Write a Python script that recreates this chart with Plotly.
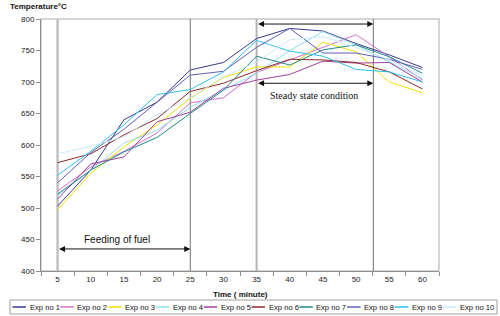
import plotly.graph_objects as go

time = [5, 10, 15, 20, 25, 30, 35, 40, 45, 50, 55, 60]
series_names = ["Exp no 1", "Exp no 2", "Exp no 3", "Exp no 4", "Exp no 5",
                "Exp no 6", "Exp no 7", "Exp no 8", "Exp no 9", "Exp no 10"]
exp1 = [503, 560, 640, 668, 719, 731, 769, 785, 781, 761, 743, 723]
exp2 = [527, 565, 590, 619, 667, 675, 715, 735, 756, 775, 740, 703]
exp3 = [497, 555, 597, 632, 674, 707, 724, 724, 763, 748, 700, 683]
exp4 = [520, 560, 603, 623, 660, 687, 714, 750, 780, 759, 732, 705]
exp5 = [514, 570, 581, 637, 652, 690, 703, 712, 733, 730, 731, 700]
exp6 = [572, 586, 616, 642, 685, 698, 718, 736, 735, 731, 716, 689]
exp7 = [522, 560, 589, 612, 650, 687, 741, 727, 751, 759, 740, 714]
exp8 = [540, 588, 625, 668, 711, 717, 755, 785, 746, 746, 736, 720]
exp9 = [552, 590, 632, 680, 688, 716, 766, 749, 741, 720, 716, 700]
exp10 = [586, 598, 613, 648, 675, 708, 732, 767, 772, 755, 735, 710]
all_series = [exp1, exp2, exp3, exp4, exp5, exp6, exp7, exp8, exp9, exp10]
colors = ["#3a3a8c", "#d070d0", "#f2e000", "#8fe0f2", "#a040a0",
          "#902828", "#208a8a", "#6060b8", "#30c0f0", "#c8ecf8"]

y_ticks = [400, 450, 500, 550, 600, 650, 700, 750, 800]
phase_lines = [5, 25, 35, 52.6]

# plot area in pixels (for converting overlay positions to paper coords)
L, R, T, B = 41, 439, 19, 271
W, H = 500, 316
def px(xp):
    return (xp - L) / (R - L)
def py(yp):
    return (B - yp) / (B - T)

fig = go.Figure()
for name, vals, c in zip(series_names, all_series, colors):
    fig.add_trace(go.Scatter(x=time, y=vals, name=name, mode="lines",
                             line=dict(color=c, width=1)))

# vertical phase lines
vstyles = [("#c0c0c0", 2.5), ("#707070", 1), ("#b4b4b4", 2), ("#707070", 1)]
for xv, (c, w) in zip(phase_lines, vstyles):
    fig.add_shape(type="line", x0=xv, x1=xv, y0=400, y1=800, xref="x", yref="y",
                  line=dict(color=c, width=w), layer="below")

# plot border (top/right)
fig.add_shape(type="rect", xref="paper", yref="paper", x0=0, x1=1, y0=0, y1=1,
              line=dict(color="#c8c8c8", width=1.5), layer="below")

def dbl_arrow(x0, x1, y):
    fig.add_annotation(x=x1, y=y, ax=x0, ay=y, xref="x", yref="y", axref="x", ayref="y",
                       text="", showarrow=True, arrowhead=2, startarrowhead=2,
                       arrowside="end+start", arrowsize=1.2, arrowwidth=1, arrowcolor="#111111")

dbl_arrow(5, 25, 435)
dbl_arrow(35, 52.6, 792)
dbl_arrow(35, 52.6, 698)

fig.add_annotation(x=13.9, y=450, xref="x", yref="y", text="Feeding of fuel", showarrow=False,
                   font=dict(family="Liberation Sans, Arial", size=10, color="#111111"))
fig.add_annotation(x=43.6, y=678, xref="x", yref="y", text="Steady state condition", showarrow=False,
                   font=dict(family="Liberation Serif, Times New Roman", size=10, color="#111111"))
fig.add_annotation(x=px(8), y=py(7), xref="paper", yref="paper", text="<b>Temperature°C</b>",
                   showarrow=False, xanchor="left", yanchor="middle",
                   font=dict(family="Liberation Sans, Arial", size=8, color="#111111"))
fig.add_annotation(x=px(241), y=py(294), xref="paper", yref="paper",
                   text="<b>Time ( minute)</b>", showarrow=False, yanchor="middle",
                   font=dict(family="Liberation Sans, Arial", size=8, color="#111111"))

# legend drawn manually (box + short line + label per series)
fig.add_shape(type="rect", xref="paper", yref="paper", x0=px(10), x1=px(497),
              y0=py(314), y1=py(300), line=dict(color="#a0a0a0", width=1), fillcolor="white")
step = 47.8
for i, (name, c) in enumerate(zip(series_names, colors)):
    x0 = 12.5 + step * i
    fig.add_shape(type="line", xref="paper", yref="paper", x0=px(x0), x1=px(x0 + 13.5),
                  y0=py(307), y1=py(307), line=dict(color=c, width=1.5))
    fig.add_annotation(x=px(x0 + 15), y=py(307), xref="paper", yref="paper", text=name,
                       showarrow=False, xanchor="left", yanchor="middle",
                       font=dict(family="Liberation Sans, Arial", size=7.6, color="#111111"))

fig.update_layout(
    width=W, height=H,
    margin=dict(l=L, r=W - R, t=T, b=H - B, autoexpand=False),
    paper_bgcolor="white", plot_bgcolor="white",
    font=dict(family="Liberation Sans, Arial", size=8, color="#222222"),
    showlegend=False,
    xaxis=dict(range=[2.5, 62.5], tickvals=time, ticktext=[str(t) for t in time],
               showgrid=False, zeroline=False, showline=True, linecolor="#909090", linewidth=1,
               ticks="", tickfont=dict(size=8, color="#222222"),
               minor=dict(tickvals=[2.5 + 5 * i for i in range(13)], ticks="outside",
                          ticklen=4, tickcolor="#909090")),
    yaxis=dict(range=[400, 800], tickvals=y_ticks, showgrid=False, zeroline=False,
               showline=True, linecolor="#909090", linewidth=1, ticks="outside",
               ticklen=4, tickcolor="#909090", tickfont=dict(size=8, color="#222222")),
)

fig.write_html("out.html", config={"displayModeBar": False},
               post_script="document.body.style.margin='0px';document.body.style.overflow='hidden';")
